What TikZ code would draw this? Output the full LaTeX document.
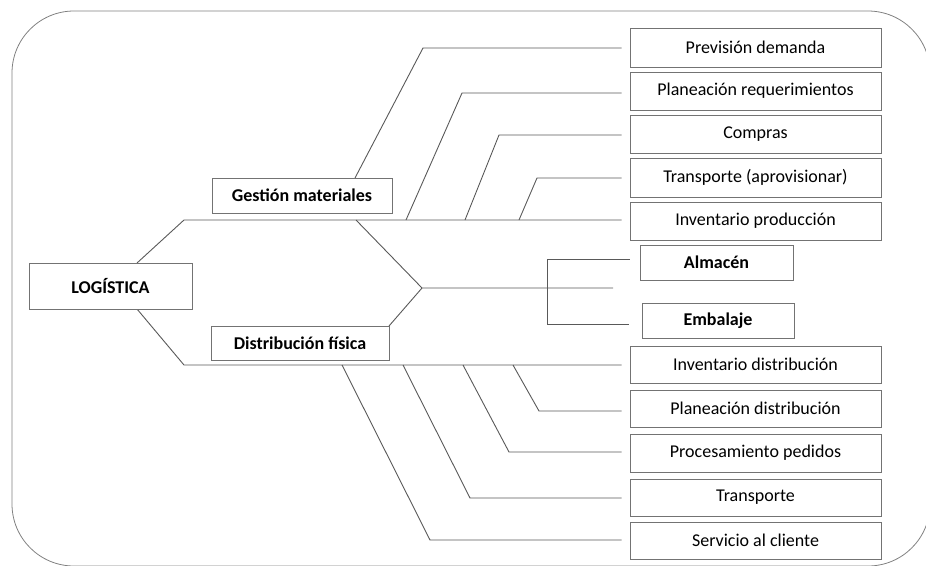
\documentclass[tikz,border=0pt]{standalone}
\usepackage{fontspec}
\setmainfont{Carlito}
\begin{document}
\begin{tikzpicture}[x=1pt,y=-1pt,
  every node/.style={font=\fontsize{18}{20}\selectfont},
  box/.style={draw=black!55, line width=0.9pt, fill=white, inner sep=0pt, text=black},
  bbox/.style={box, font=\fontsize{18}{20}\selectfont\bfseries},
  itembox/.style={box, minimum width=251pt},
  conn/.style={draw=black!65, line width=0.9pt},
  frame/.style={draw=black!50, line width=0.8pt, rounded corners=62pt}]
\useasboundingbox (0,0) rectangle (926,565);

% outer rounded frame
\draw[frame] (12,11) rectangle (930,566);

% ---- connector bend points ----
% main branches from LOGISTICA
\coordinate (la) at (137,263);
\coordinate (lb) at (184,220);
\coordinate (lc) at (137,309);
\coordinate (ld) at (184,365);
% central link to the bracket
\coordinate (ma) at (356,220);
\coordinate (mb) at (422,288);
\coordinate (mc) at (613,288);
\coordinate (md) at (389,326);
\coordinate (bt) at (547,259);
\coordinate (bb) at (547,324);
% upper sub-branches
\coordinate (p1) at (355,178);   \coordinate (p2) at (423,48);
\coordinate (q1) at (406,220);   \coordinate (q2) at (462,93);
\coordinate (c1) at (465,220);   \coordinate (c2) at (499,135);
\coordinate (t1) at (519,220);   \coordinate (t2) at (537,178);
% lower sub-branches
\coordinate (s1) at (342,365);   \coordinate (s2) at (430,540);
\coordinate (r1) at (403,365);   \coordinate (r2) at (470,498);
\coordinate (o1) at (463,365);   \coordinate (o2) at (509,452);
\coordinate (d1) at (513,365);   \coordinate (d2) at (539,411);

% ---- right column boxes ----
\node[itembox, minimum height=39pt] (prev) at (755.5,47.5) {Previsión demanda};
\node[itembox, minimum height=38pt] (plan) at (755.5,91)   {Planeación requerimientos};
\node[itembox, minimum height=38pt] (comp) at (755.5,134)  {Compras};
\node[itembox, minimum height=39pt] (trap) at (755.5,177.5){Transporte (aprovisionar)};
\node[itembox, minimum height=38pt] (invp) at (755.5,221)  {Inventario producción};

\node[itembox, minimum height=37pt] (invd) at (755.5,364.5){Inventario distribución};
\node[itembox, minimum height=37pt] (pland) at (755.5,408.5){Planeación distribución};
\node[itembox, minimum height=38pt] (proc) at (755.5,453)  {Procesamiento pedidos};
\node[itembox, minimum height=37pt] (tran) at (755.5,497.5){Transporte};
\node[itembox, minimum height=37pt] (serv) at (755.5,540.5){Servicio al cliente};

\node[bbox, minimum width=153pt, minimum height=35pt] (alm) at (716.5,262.5) {Almacén};
\node[bbox, minimum width=152pt, minimum height=35pt] (emb) at (718,320.5) {Embalaje};

% ---- connectors ----
\draw[conn] (la) -- (lb) -- ([xshift=-8pt]invp.west |- lb);
\draw[conn] (lc) -- (ld) -- ([xshift=-8pt]invd.west |- ld);
\draw[conn] (ma) -- (mb) -- (mc);
\draw[conn] (md) -- (mb);
\draw[conn] ([xshift=-10pt]alm.west |- bt) -- (bt) -- (bb) -- ([xshift=-13pt]emb.west |- bb);

\draw[conn] (p1) -- (p2) -- ([xshift=-8pt]prev.west |- p2);
\draw[conn] (q1) -- (q2) -- ([xshift=-8pt]plan.west |- q2);
\draw[conn] (c1) -- (c2) -- ([xshift=-8pt]comp.west |- c2);
\draw[conn] (t1) -- (t2) -- ([xshift=-8pt]trap.west |- t2);

\draw[conn] (s1) -- (s2) -- ([xshift=-8pt]serv.west |- s2);
\draw[conn] (r1) -- (r2) -- ([xshift=-8pt]tran.west |- r2);
\draw[conn] (o1) -- (o2) -- ([xshift=-8pt]proc.west |- o2);
\draw[conn] (d1) -- (d2) -- ([xshift=-8pt]pland.west |- d2);

% ---- left boxes (drawn over the lines) ----
\node[bbox, minimum width=163pt, minimum height=46pt] (log) at (110.5,286) {LOGÍSTICA};
\node[bbox, minimum width=180pt, minimum height=35pt] (gest) at (302,195.5) {Gestión materiales};
\node[bbox, minimum width=178pt, minimum height=34pt] (dist) at (300,343) {Distribución física};
\end{tikzpicture}
\end{document}
